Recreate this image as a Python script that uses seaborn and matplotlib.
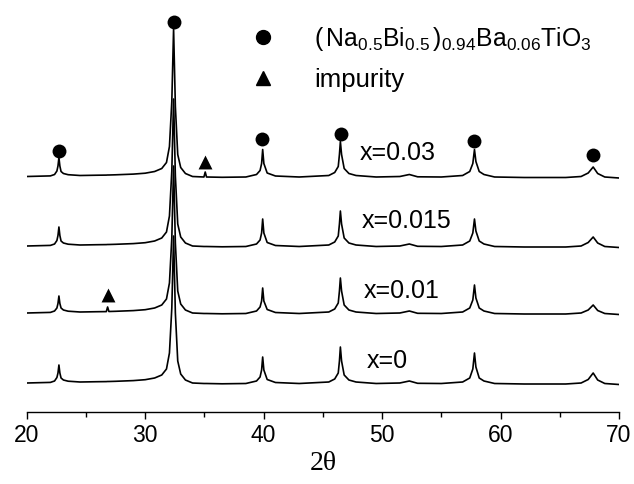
import matplotlib
matplotlib.use("Agg")
import matplotlib.pyplot as plt
from matplotlib.lines import Line2D
import seaborn as sns
import pandas as pd

# 2theta grid (degrees)
two_theta = [
    20.0, 21.0, 22.0, 22.35, 22.55, 22.64, 22.72, 22.8, 22.9, 23.1,
    23.5, 24.5, 26.0, 26.72, 26.83, 26.94, 27.5, 29.0, 30.0, 30.8,
    31.4, 31.8, 32.05, 32.25, 32.4, 32.55, 32.75, 33.0, 33.4, 34.0,
    34.96, 35.07, 35.18, 36.5, 38.5, 39.4, 39.7, 39.83, 39.92, 40.02,
    40.3, 41.0, 43.0, 45.5, 46.0, 46.3, 46.4, 46.48, 46.58, 46.8,
    47.2, 47.8, 49.5, 51.5, 52.3, 53.0, 55.0, 56.8, 57.4, 57.66,
    57.8, 57.92, 58.2, 58.6, 59.5, 62.0, 65.5, 66.8, 67.4, 67.82,
    68.2, 68.8, 70.0,
]

samples = ["x=0", "x=0.01", "x=0.015", "x=0.03"]
offsets = [0, 70, 137, 206.5]

# intensities (a.u.) relative to each trace's own baseline
int_x0 = [
    0, 0.3, 0.6, 2, 5.5, 10, 18, 10, 5, 3,
    1.8, 1, 1.3, 1.4, 1.5, 1.5, 1.7, 2.4, 3.3, 5,
    8, 14, 30, 75, 147, 70, 22, 9, 3, 0,
    -0.5, -0.5, -0.5, -0.8, -0.5, 2, 6, 13, 26, 13,
    3.5, 0.5, -0.5, 1, 4, 10, 22, 36, 22, 8,
    3, 1, -0.5, 0, 2, -0.3, -0.5, 1, 5, 14,
    30, 16, 5, 2, -0.5, -1, -1, 0, 3.5, 10,
    3, -0.5, -1.5,
]
int_x001 = [
    0, 0.3, 0.6, 2, 5, 9.5, 17, 9.5, 5, 3,
    1.8, 1, 1.3, 1.4, 6, 1.5, 1.7, 2.4, 3.3, 5,
    8, 14, 30, 75, 147, 70, 22, 9, 3, 0,
    -0.5, -0.5, -0.5, -0.8, -0.5, 2, 6, 12, 25, 12,
    3.5, 0.5, -0.5, 1, 4, 10, 22, 35, 22, 8,
    3, 1, -0.5, 0, 2, -0.3, -0.5, 1, 5, 13,
    28, 15, 5, 2, -0.5, -1, -1, 0, 3, 8,
    2.5, -0.5, -1.5,
]
int_x0015 = [
    0, 0.3, 0.6, 2, 5.5, 10.5, 19, 10.5, 5, 3,
    1.8, 1, 1.3, 1.4, 1.5, 1.5, 1.7, 2.4, 3.3, 5,
    8, 14, 30, 75, 147, 70, 22, 9, 3, 0,
    -0.5, -0.5, -0.5, -0.8, -0.5, 2, 6, 13, 27, 13,
    3.5, 0.5, -0.5, 1, 4, 10, 22, 35, 22, 8,
    3, 1, -0.5, 0, 2, -0.3, -0.5, 1, 5, 13,
    27, 15, 5, 2, -0.5, -1, -1, 0, 3.5, 9,
    3, -0.5, -1.5,
]
int_x003 = [
    0, 0.3, 0.6, 2, 5.5, 10.5, 19, 10.5, 5, 3,
    1.8, 1, 1.3, 1.4, 1.5, 1.5, 1.7, 2.4, 3.3, 5,
    8, 14, 30, 75, 148, 70, 22, 9, 3, 0,
    -0.5, 4.5, -0.5, -0.8, -0.5, 2, 6, 13, 27, 13,
    3.5, 0.5, -0.5, 1, 4, 10, 22, 35, 22, 8,
    3, 1, -0.5, 0, 2, -0.3, -0.5, 1, 5, 13,
    27, 15, 5, 2, -0.5, -1, -1, 0, 3.5, 9.5,
    3, -0.5, -1.5,
]

# peak markers
circle_x = [22.7, 32.4, 39.9, 46.5, 57.8, 67.8]
circle_y = [232, 361, 244, 249, 242, 228]
tri_x = [35.07, 26.83]
tri_y = [221, 88]

phase_label = "($\\,\\mathrm{Na_{0.5}Bi_{0.5}}\\,$)$\\mathrm{_{0.94}Ba_{0.06}TiO_3}$"
impurity_label = "impurity"

rows = []
for name, off, vals in zip(samples, offsets, [int_x0, int_x001, int_x0015, int_x003]):
    for t, v in zip(two_theta, vals):
        rows.append({"two_theta": t, "signal": v + off, "sample": name})
df = pd.DataFrame(rows)

sns.set_style("white")
plt.rcParams["font.family"] = ["Liberation Sans", "DejaVu Sans"]
plt.rcParams["mathtext.fontset"] = "custom"
plt.rcParams["mathtext.rm"] = "Liberation Sans"
plt.rcParams["mathtext.it"] = "Liberation Sans:italic"
plt.rcParams["mathtext.bf"] = "Liberation Sans:bold"
plt.rcParams["text.color"] = "black"
plt.rcParams["axes.labelcolor"] = "black"
plt.rcParams["xtick.color"] = "black"

fig = plt.figure(figsize=(6.34, 4.84), dpi=100)
ax = fig.add_axes([26.7 / 634, 72.3 / 484, 592.3 / 634, 411.7 / 484])

sns.lineplot(data=df, x="two_theta", y="signal", hue="sample", estimator=None,
             sort=False, palette=["black"] * 4, linewidth=1.2, legend=False, ax=ax)
sns.scatterplot(x=circle_x, y=circle_y, marker="o", s=100, color="black",
                linewidth=0, ax=ax, zorder=3)
sns.scatterplot(x=tri_x, y=tri_y, marker="^", s=100, color="black",
                linewidth=0, ax=ax, zorder=3)

# sample labels
for name, tx, ty in zip(samples, [48.71, 48.43, 48.29, 48.15], [14.7, 84.7, 154.7, 223]):
    ax.text(tx, ty, name, fontsize=18, ha="left", va="baseline", color="black")

handles = [
    Line2D([], [], ls="none", marker="o", ms=10, color="black"),
    Line2D([], [], ls="none", marker="^", ms=10, color="black"),
]
leg = ax.legend(handles, [phase_label, impurity_label], loc="upper left",
                bbox_to_anchor=(250 / 634, 1 - 25 / 484), bbox_transform=fig.transFigure,
                frameon=False, fontsize=18.5, handlelength=1.0, handletextpad=1.5,
                labelspacing=0.6, borderpad=0, borderaxespad=0)
leg.get_texts()[0].set_fontsize(17.8)

ax.set_xlim(20, 70)
ax.set_ylim(-28.7, 383)
ax.set_xticks([20, 30, 40, 50, 60, 70])
ax.set_xticks([25, 35, 45, 55, 65], minor=True)
ax.set_yticks([])
for side in ["left", "right", "top"]:
    ax.spines[side].set_visible(False)
ax.spines["bottom"].set_linewidth(1.0)
ax.spines["bottom"].set_color("black")
ax.tick_params(axis="x", which="major", direction="out", length=5, width=1.0,
               labelsize=16.5, pad=4, bottom=True, colors="black")
ax.tick_params(axis="x", which="minor", direction="out", length=3.5, width=1.0,
               bottom=True, colors="black")
ax.set_xlabel("2θ", fontfamily="Liberation Serif", fontsize=20, labelpad=3)
ax.set_ylabel("")

fig.savefig("out.png", dpi=100)
